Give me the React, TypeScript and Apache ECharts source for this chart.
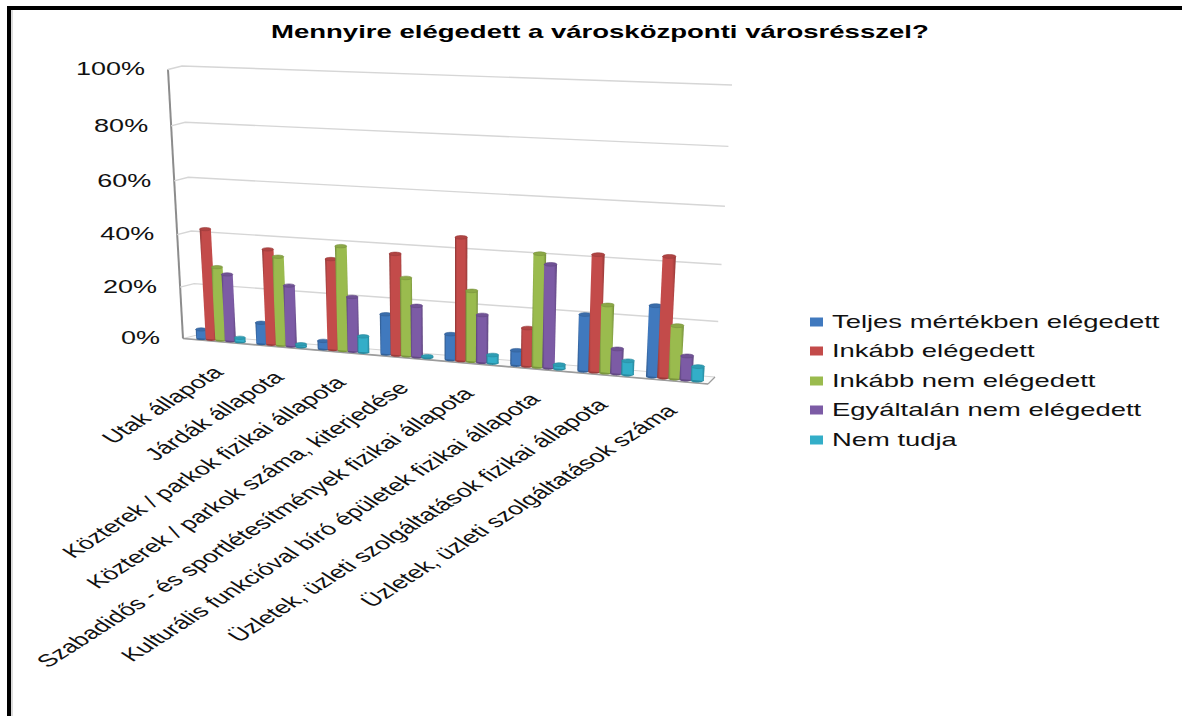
import React, { useEffect, useRef } from "react";
import * as echarts from "echarts";

const title = "Mennyire elégedett a városközponti városrésszel?";
const categories = [
  "Utak állapota",
  "Járdák állapota",
  "Közterek / parkok fizikai állapota",
  "Közterek / parkok száma, kiterjedése",
  "Szabadidős - és sportlétesítmények fizikai állapota",
  "Kulturális funkcióval bíró épületek fizikai állapota",
  "Üzletek, üzleti szolgáltatások fizikai állapota",
  "Üzletek, üzleti szolgáltatások száma",
];
const yTicks = [0, 20, 40, 60, 80, 100];
const seriesNames = [
  "Teljes mértékben elégedett",
  "Inkább elégedett",
  "Inkább nem elégedett",
  "Egyáltalán nem elégedett",
  "Nem tudja",
];
const teljes = [3.5, 8, 3, 15, 9.5, 5.5, 20.5, 25.5];
const inkabb = [42, 36, 34, 37.5, 45, 14, 42, 43];
const inkabbNem = [28, 33.5, 39, 29, 26, 41, 24.5, 19];
const egyaltalan = [25.5, 23, 20.5, 19, 17.5, 37.5, 9, 8.5];
const nemTudja = [1.5, 1, 6, 0.5, 3, 1.5, 5, 5];
const seriesValues = [teljes, inkabb, inkabbNem, egyaltalan, nemTudja];
const seriesColors = ["#4079BE", "#C34B4A", "#9ABB4E", "#7C5BA5", "#33AEC8"];
const legendY = [322, 351, 381, 410, 440];

type Pt = [number, number];
// Homography from the unit square: p00, p10, p11, p01 (s right, t up)
function makeWarp(p0: Pt, p1: Pt, p2: Pt, p3: Pt) {
  const dx1 = p1[0] - p2[0], dx2 = p3[0] - p2[0], sx = p0[0] - p1[0] + p2[0] - p3[0];
  const dy1 = p1[1] - p2[1], dy2 = p3[1] - p2[1], sy = p0[1] - p1[1] + p2[1] - p3[1];
  const den = dx1 * dy2 - dx2 * dy1;
  const g = (sx * dy2 - dx2 * sy) / den;
  const h = (dx1 * sy - sx * dy1) / den;
  const a = p1[0] - p0[0] + g * p1[0], b = p3[0] - p0[0] + h * p3[0], c = p0[0];
  const d = p1[1] - p0[1] + g * p1[1], e = p3[1] - p0[1] + h * p3[1], f = p0[1];
  return (s: number, t: number): Pt => {
    const w = g * s + h * t + 1;
    return [(a * s + b * t + c) / w, (d * s + e * t + f) / w];
  };
}
const wall = makeWarp([197, 335], [715, 377], [732, 85], [182, 66]);
const barPlane = makeWarp([191, 337.5], [710, 381.5], [727, 87], [175, 67]);

function unit(params: any, api: any, u: number, v: number): Pt {
  const c = api.coord([u, v]);
  const r = params.coordSys;
  return [(c[0] - r.x) / r.width, 1 - (c[1] - r.y) / r.height];
}
function shade(hex: string, k: number) {
  const n = parseInt(hex.slice(1), 16);
  const ch = (v: number) => Math.round(v * k);
  return `rgb(${ch((n >> 16) & 255)},${ch((n >> 8) & 255)},${ch(n & 255)})`;
}

const FONT = "Liberation Sans, Arial, sans-serif";
const STRETCH = 1.5;

const gridOption = { left: 200, top: 70, width: 520, height: 290 };
const commonCustom = { type: "custom", silent: true, animation: false, clip: false };

function App() {
  const ref = useRef<HTMLDivElement>(null);
  useEffect(() => {
    document.body.style.margin = "0";
    const chart = echarts.init(ref.current!, undefined, { renderer: "svg" });

    const frame = {
      ...commonCustom,
      name: "frame",
      z: 1,
      data: yTicks.map((t) => [0, t]),
      renderItem(params: any, api: any) {
        const v = api.value(1);
        const [s0, t] = unit(params, api, 0, v);
        const [s1] = unit(params, api, 8, v);
        const a = wall(s0, t);
        const b = wall(s1, t);
        const front: Pt = [a[0] - 14, a[1] + 3.5];
        const children: any[] = [];
        if (v === 0) {
          const fr: Pt = [708, 384];
          children.push({
            type: "polygon",
            shape: { points: [front, a, b, fr] },
            style: { fill: "#fbfbfb", stroke: "#d4d4d4", lineWidth: 1 },
          });
          children.push({
            type: "line",
            shape: { x1: front[0], y1: front[1], x2: fr[0], y2: fr[1] },
            style: { stroke: "#9c9c9c", lineWidth: 1.6 },
          });
          children.push({
            type: "line",
            shape: { x1: fr[0], y1: fr[1], x2: b[0], y2: b[1] },
            style: { stroke: "#9c9c9c", lineWidth: 1.2 },
          });
          const topWall = wall(0, 1);
          children.push({
            type: "line",
            shape: { x1: front[0], y1: front[1], x2: topWall[0] - 14, y2: topWall[1] + 3.5 },
            style: { stroke: "#8c8c8c", lineWidth: 2 },
          });
        } else {
          children.push({
            type: "polyline",
            shape: { points: [front, a, b] },
            style: { fill: "none", stroke: "#d6d6d6", lineWidth: 1.4 },
          });
        }
        children.push({
          type: "text",
          x: a[0] - 37,
          y: a[1] + 3,
          scaleX: STRETCH,
          style: {
            text: api.value(1) + "%",
            font: `18px ${FONT}`,
            fill: "#111",
            align: "right",
            verticalAlign: "middle",
          },
        });
        return { type: "group", children };
      },
    };

    const labels = {
      ...commonCustom,
      name: "categoryLabels",
      z: 1,
      data: categories.map((_, i) => [i + 0.5, 0]),
      renderItem(params: any, api: any) {
        const [s, t] = unit(params, api, api.value(0), api.value(1));
        const p = barPlane(s, t);
        return {
          type: "group",
          x: p[0] - 3,
          y: p[1] + 29,
          scaleX: 1.56,
          children: [
            {
              type: "text",
              rotation: Math.PI / 4,
              style: {
                text: categories[params.dataIndex],
                font: `17.3px ${FONT}`,
                fill: "#111",
                align: "right",
                verticalAlign: "middle",
              },
            },
          ],
        };
      },
    };

    const BAR_W = 0.16;
    const BAR_DRAWN = 0.185;
    const START = 0.1;
    const bars = seriesNames.map((name, si) => ({
      ...commonCustom,
      name,
      z: 2,
      data: seriesValues[si].map((v, i) => [i, v]),
      renderItem(params: any, api: any) {
        const cat = api.value(0);
        const val = api.value(1);
        const um = cat + START + (si + 0.5) * BAR_W;
        const u0 = um - BAR_DRAWN / 2;
        const u1 = um + BAR_DRAWN / 2;
        const pt = (u: number, v: number) => {
          const [s, t] = unit(params, api, u, v);
          return barPlane(s, t);
        };
        const bl = pt(u0, 0), br = pt(u1, 0), tr = pt(u1, val), tl = pt(u0, val);
        const base = seriesColors[si];
        const rx = (br[0] - bl[0]) / 2;
        const ry = Math.max(1.6, rx * 0.3);
        return {
          type: "group",
          children: [
            {
              type: "ellipse",
              shape: { cx: (bl[0] + br[0]) / 2, cy: (bl[1] + br[1]) / 2, rx, ry },
              style: { fill: shade(base, 0.8) },
            },
            {
              type: "polygon",
              shape: { points: [bl, br, tr, tl] },
              style: {
                fill: {
                  type: "linear",
                  x: 0,
                  y: 0,
                  x2: 1,
                  y2: 0,
                  colorStops: [
                    { offset: 0, color: shade(base, 0.72) },
                    { offset: 0.16, color: base },
                    { offset: 0.8, color: base },
                    { offset: 1, color: shade(base, 0.76) },
                  ],
                },
              },
            },
            {
              type: "ellipse",
              shape: { cx: (tl[0] + tr[0]) / 2, cy: (tl[1] + tr[1]) / 2, rx: (tr[0] - tl[0]) / 2, ry },
              style: { fill: shade(base, 0.9), stroke: shade(base, 0.78), lineWidth: 0.6 },
            },
          ],
        };
      },
    }));

    const legendGraphics = seriesNames.flatMap((name, i) => [
      {
        type: "rect",
        shape: { x: 810, y: legendY[i] - 4.5, width: 13, height: 9 },
        style: { fill: seriesColors[i] },
      },
      {
        type: "text",
        x: 832,
        y: legendY[i],
        scaleX: 1.523,
        style: { text: name, font: `18px ${FONT}`, fill: "#111", align: "left", verticalAlign: "middle" },
      },
    ]);

    chart.setOption({
      animation: false,
      backgroundColor: "#ffffff",
      grid: gridOption,
      xAxis: { type: "value", min: 0, max: 8, show: false },
      yAxis: { type: "value", min: 0, max: 100, interval: 20, show: false },
      series: [frame, labels, ...bars],
      graphic: [
        { type: "rect", shape: { x: 7, y: 6, width: 1175, height: 4 }, style: { fill: "#000" } },
        { type: "rect", shape: { x: 7, y: 6, width: 4, height: 710 }, style: { fill: "#000" } },
        { type: "rect", shape: { x: 11, y: 10, width: 2, height: 706 }, style: { fill: "#dcdcdc" } },
        {
          type: "text",
          x: 271,
          y: 32,
          scaleX: 1.53,
          style: { text: title, font: `bold 18px ${FONT}`, fill: "#000", align: "left", verticalAlign: "middle" },
        },
        ...legendGraphics,
      ],
    });
    return () => chart.dispose();
  }, []);
  return <div ref={ref} style={{ width: 1182, height: 716 }} />;
}

export default App;
